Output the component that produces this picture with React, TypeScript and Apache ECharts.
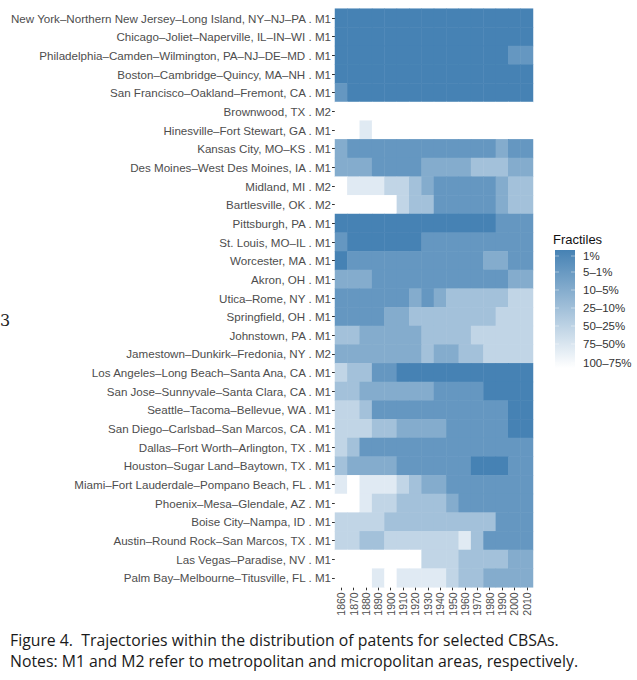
import React, { useEffect, useRef } from "react";
import * as echarts from "echarts";

const years: string[] = ["1860","1870","1880","1890","1900","1910","1920","1930","1940","1950","1960","1970","1980","1990","2000","2010"];

const cbsas: string[] = [
  "New York–Northern New Jersey–Long Island, NY–NJ–PA . M1",
  "Chicago–Joliet–Naperville, IL–IN–WI . M1",
  "Philadelphia–Camden–Wilmington, PA–NJ–DE–MD . M1",
  "Boston–Cambridge–Quincy, MA–NH . M1",
  "San Francisco–Oakland–Fremont, CA . M1",
  "Brownwood, TX . M2",
  "Hinesville–Fort Stewart, GA . M1",
  "Kansas City, MO–KS . M1",
  "Des Moines–West Des Moines, IA . M1",
  "Midland, MI . M2",
  "Bartlesville, OK . M2",
  "Pittsburgh, PA . M1",
  "St. Louis, MO–IL . M1",
  "Worcester, MA . M1",
  "Akron, OH . M1",
  "Utica–Rome, NY . M1",
  "Springfield, OH . M1",
  "Johnstown, PA . M1",
  "Jamestown–Dunkirk–Fredonia, NY . M2",
  "Los Angeles–Long Beach–Santa Ana, CA . M1",
  "San Jose–Sunnyvale–Santa Clara, CA . M1",
  "Seattle–Tacoma–Bellevue, WA . M1",
  "San Diego–Carlsbad–San Marcos, CA . M1",
  "Dallas–Fort Worth–Arlington, TX . M1",
  "Houston–Sugar Land–Baytown, TX . M1",
  "Miami–Fort Lauderdale–Pompano Beach, FL . M1",
  "Phoenix–Mesa–Glendale, AZ . M1",
  "Boise City–Nampa, ID . M1",
  "Austin–Round Rock–San Marcos, TX . M1",
  "Las Vegas–Paradise, NV . M1",
  "Palm Bay–Melbourne–Titusville, FL . M1",
];

// fractile level per CBSA and decade: 6 = top 1%, 0 = 100–75%
const levels: number[][] = [
  [6,6,6,6,6,6,6,6,6,6,6,6,6,6,6,6],
  [6,6,6,6,6,6,6,6,6,6,6,6,6,6,6,6],
  [6,6,6,6,6,6,6,6,6,6,6,6,6,6,5,5],
  [6,6,6,6,6,6,6,6,6,6,6,6,6,6,6,6],
  [5,6,6,6,6,6,6,6,6,6,6,6,6,6,6,6],
  [0,0,0,0,0,0,0,0,0,0,0,0,0,0,0,0],
  [0,0,1,0,0,0,0,0,0,0,0,0,0,0,0,0],
  [4,5,5,5,5,5,5,5,5,5,5,5,5,4,5,5],
  [4,4,4,5,5,5,5,4,4,4,4,3,3,3,4,4],
  [0,1,1,1,2,2,3,4,5,5,5,5,5,4,3,3],
  [0,0,0,0,0,2,3,3,5,5,5,5,5,4,3,3],
  [6,6,6,6,6,6,6,6,6,6,6,6,6,5,5,5],
  [5,6,6,6,6,6,6,5,5,5,5,5,5,5,5,5],
  [6,5,5,5,5,5,5,5,5,5,5,5,4,4,5,5],
  [4,4,4,5,5,5,5,5,5,5,5,5,5,5,4,4],
  [5,5,5,5,5,5,4,5,4,3,3,3,3,3,2,2],
  [5,5,5,5,4,4,3,3,3,3,3,3,3,2,2,2],
  [3,3,4,4,4,4,4,3,3,3,3,2,2,2,2,2],
  [4,4,4,4,4,4,4,3,4,4,3,3,2,2,2,2],
  [2,3,3,5,5,6,6,6,6,6,6,6,6,6,6,6],
  [3,3,4,4,4,4,4,4,5,5,5,5,6,6,6,6],
  [2,2,3,5,5,5,5,5,5,5,5,5,5,5,6,6],
  [2,2,2,3,3,4,4,4,4,5,5,5,5,5,6,6],
  [2,3,5,5,5,5,5,5,5,5,5,5,5,5,5,5],
  [3,4,4,4,4,5,5,5,5,5,5,6,6,6,5,5],
  [1,0,1,1,1,2,3,4,4,5,5,5,5,5,5,5],
  [0,0,1,2,2,3,3,3,3,4,5,5,5,5,5,5],
  [2,2,2,2,3,3,3,3,3,3,3,3,3,5,5,5],
  [2,2,3,3,2,2,2,2,2,2,1,3,5,5,5,5],
  [0,0,0,0,0,0,0,2,2,2,3,3,3,3,4,4],
  [0,0,0,1,0,1,1,1,1,2,3,3,4,4,4,4],
];

const fractileLabels: string[] = ["1%","5–1%","10–5%","25–10%","50–25%","75–50%","100–75%"];
const levelColors: string[] = ["#ffffff","#e0eaf3","#c1d5e6","#a3c1da","#84accd","#6597c1","#4682b4"];

export default function App() {
  const ref = useRef<HTMLDivElement>(null);
  useEffect(() => {
    if (!ref.current) return;
    const chart = echarts.init(ref.current, undefined, { renderer: "svg" });
    const data: number[][] = [];
    levels.forEach((row, r) => row.forEach((v, c) => data.push([c, r, v])));

    const gridLeft = 335, gridTop = 8.7, gridW = 198, gridH = 578.6;
    const barX = 555, barY = 250, barW = 20, barH = 118;
    const labelYs = [256, 272, 290, 308, 326, 344, 363];
    const sans = "Liberation Sans, Arial, sans-serif";
    const legendGraphics: any[] = [
      { type: "text", left: 553, top: 233, style: { text: "Fractiles", fontSize: 13, fill: "#111", fontFamily: sans } },
      {
        type: "rect", shape: { x: barX, y: barY, width: barW, height: barH },
        style: { fill: new echarts.graphic.LinearGradient(0, 0, 0, 1, [{ offset: 0, color: "#4682b4" }, { offset: 1, color: "#ffffff" }]) },
      },
    ];
    labelYs.forEach((y, i) => {
      legendGraphics.push({ type: "line", shape: { x1: barX, y1: y, x2: barX + 4, y2: y }, style: { stroke: "#ffffff", lineWidth: 0.6, opacity: 0.7 } });
      legendGraphics.push({ type: "line", shape: { x1: barX + barW - 4, y1: y, x2: barX + barW, y2: y }, style: { stroke: "#ffffff", lineWidth: 0.6, opacity: 0.7 } });
      legendGraphics.push({ type: "text", x: 583, y, style: { text: fractileLabels[i], fontSize: 11.5, fill: "#333", verticalAlign: "middle", fontFamily: sans } });
    });

    chart.setOption({
      animation: false,
      backgroundColor: "#ffffff",
      grid: { left: gridLeft, top: gridTop, width: gridW, height: gridH, containLabel: false },
      xAxis: {
        type: "category", data: years, position: "bottom",
        axisLine: { show: false },
        axisTick: { show: true, length: 3, alignWithLabel: true, interval: 0, lineStyle: { color: "#333" } },
        axisLabel: { rotate: 90, interval: 0, fontSize: 10.5, color: "#4d4d4d", margin: 5, fontFamily: sans },
        splitArea: { show: false }, splitLine: { show: false },
      },
      yAxis: {
        type: "category", data: cbsas, inverse: true,
        axisLine: { show: false },
        axisTick: { show: true, length: 3, alignWithLabel: true, interval: 0, lineStyle: { color: "#333" } },
        axisLabel: { interval: 0, fontSize: 11.6, color: "#4d4d4d", margin: 4, fontFamily: sans },
        splitArea: { show: false }, splitLine: { show: false },
      },
      visualMap: {
        type: "piecewise", show: false, dimension: 2,
        pieces: levelColors.map((color, k) => ({ value: k, color })),
      },
      series: [{ type: "heatmap", data, itemStyle: { borderWidth: 0 }, emphasis: { disabled: true } }],
      graphic: [
        ...legendGraphics,
        { type: "text", x: 0, y: 312, style: { text: "3", fontSize: 16, fill: "#222", fontFamily: "DejaVu Serif, serif" } },
        { type: "text", x: 10, y: 640, style: { text: "Figure 4.  Trajectories within the distribution of patents for selected CBSAs.", fontSize: 15.8, fill: "#1a1a1a", verticalAlign: "middle", fontFamily: "Open Sans, sans-serif" } },
        { type: "text", x: 10, y: 661, style: { text: "Notes: M1 and M2 refer to metropolitan and micropolitan areas, respectively.", fontSize: 15.8, fill: "#1a1a1a", verticalAlign: "middle", fontFamily: "Open Sans, sans-serif" } },
      ],
    });
    return () => chart.dispose();
  }, []);
  return <div ref={ref} style={{ position: "absolute", left: 0, top: 0, width: 637, height: 680 }} />;
}
